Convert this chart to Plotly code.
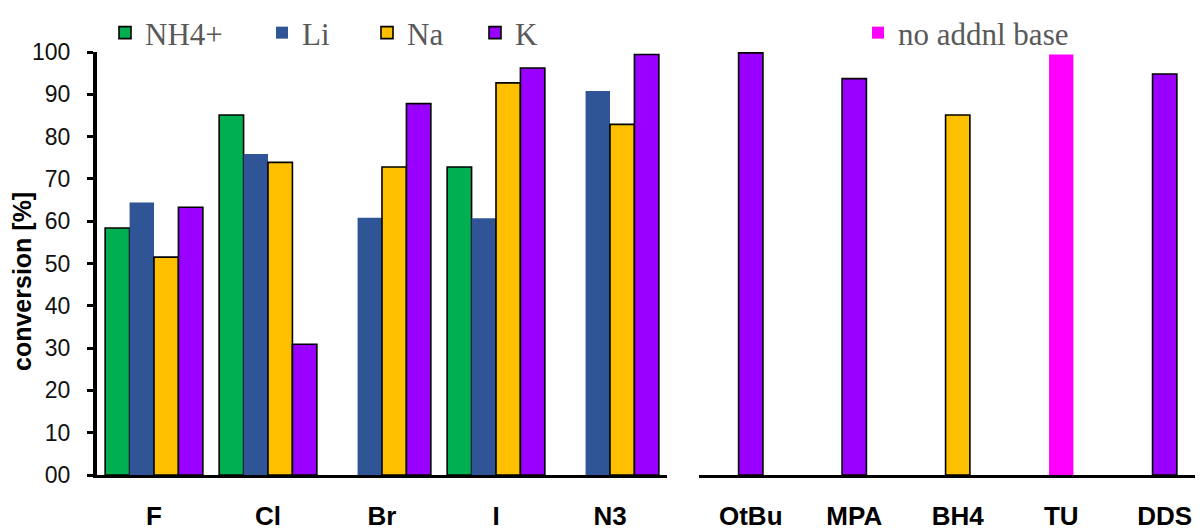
import plotly.graph_objects as go

# ---- data ----
left_categories = ["F", "Cl", "Br", "I", "N3"]
nh4_values = [58.4, 85.1, None, 72.8, None]
li_values = [64.4, 75.9, 60.8, 60.7, 90.8]
na_values = [51.5, 73.9, 72.8, 92.7, 82.9]
k_values = [63.3, 30.9, 87.8, 96.2, 99.4]

right_categories = ["OtBu", "MPA", "BH4", "TU", "DDS"]
right_cation = ["K", "K", "Na", None, "K"]
right_cation_values = [99.8, 93.7, 85.1, None, 94.8]
right_nobase_values = [None, None, None, 99.4, None]

y_tick_values = [0, 10, 20, 30, 40, 50, 60, 70, 80, 90, 100]
y_tick_labels = ["00", "10", "20", "30", "40", "50", "60", "70", "80", "90", "100"]

# ---- styles ----
OFF = 8  # page body margin
W, H = 1203 - OFF, 531 - OFF
colors = {"NH4+": "#00B050", "Li": "#2F5597", "Na": "#FFC000", "K": "#9900FF"}
outlined = {"NH4+": True, "Li": False, "Na": True, "K": True}
nobase_color = "#FF00FF"
legend_x_px = {"NH4+": 105, "Li": 262, "Na": 367, "K": 475, "nobase": 858}
legend_names = {"NH4+": "legend", "Li": "legend2", "Na": "legend3", "K": "legend4", "nobase": "legend5"}


def px_x(x):
    return (x - OFF) / W


fig = go.Figure()

series = [("NH4+", nh4_values), ("Li", li_values), ("Na", na_values), ("K", k_values)]
for name, vals in series:
    fig.add_trace(go.Bar(
        x=left_categories, y=vals, name=name,
        marker=dict(color=colors[name],
                    line=dict(color="#000000", width=1.6 if outlined[name] else 0)),
        xaxis="x", yaxis="y", legend=legend_names[name],
    ))

fig.add_trace(go.Bar(
    x=right_categories, y=right_cation_values, name="cation",
    marker=dict(color=[colors[c] if c else nobase_color for c in right_cation],
                line=dict(color="#000000", width=1.6)),
    width=0.235, offsetgroup="r", showlegend=False,
    xaxis="x2", yaxis="y2",
))
fig.add_trace(go.Bar(
    x=right_categories, y=right_nobase_values, name="no addnl base",
    marker=dict(color=nobase_color, line=dict(width=0)),
    width=0.235, offsetgroup="r",
    xaxis="x2", yaxis="y2", legend="legend5",
))

top, bottom = 52 - OFF, 56
plot_h = H - top - bottom


def px_y(y):
    return (H - bottom - (y - OFF)) / plot_h


legend_font = dict(family="Liberation Serif, Times New Roman, serif", size=31, color="#595959")
legend_layouts = {}
for key, lname in legend_names.items():
    legend_layouts[lname] = dict(
        x=px_x(legend_x_px[key]), y=px_y(33), xanchor="left", yanchor="middle",
        xref="paper", yref="paper", font=legend_font, bgcolor="rgba(0,0,0,0)",
        borderwidth=0, orientation="h",
    )

tick_font = dict(family="Liberation Sans, Arial, sans-serif", size=26, color="#000000", weight="bold")

fig.update_layout(
    width=W, height=H,
    margin=dict(l=0, r=0, t=top, b=bottom, autoexpand=False),
    paper_bgcolor="#FFFFFF", plot_bgcolor="#FFFFFF",
    barmode="group", bargap=0.143, bargroupgap=0,
    showlegend=True,
    xaxis=dict(domain=[px_x(97), px_x(667)], range=[-0.5, 4.5], type="category",
               showline=True, linecolor="#000000", linewidth=3, ticks="",
               showgrid=False, zeroline=False, tickfont=tick_font,
               ticklabelstandoff=16, anchor="y"),
    yaxis=dict(domain=[0, 1], range=[0, 100], showline=True, linecolor="#000000",
               linewidth=4, ticks="outside", ticklen=6, tickwidth=3, tickcolor="#000000",
               tickvals=y_tick_values, ticktext=y_tick_labels, showgrid=False,
               zeroline=False, anchor="x", ticklabelstandoff=12,
               tickfont=dict(family="Liberation Sans, Arial, sans-serif", size=23, color="#111111")),
    xaxis2=dict(domain=[px_x(699), 1.0], range=[-0.5, 4.37], type="category",
                showline=True, linecolor="#000000", linewidth=3, ticks="",
                showgrid=False, zeroline=False, tickfont=tick_font,
                ticklabelstandoff=16, anchor="y2"),
    yaxis2=dict(domain=[0, 1], range=[0, 100], visible=False, anchor="x2"),
    annotations=[dict(
        text="conversion [%]", textangle=-90, xref="paper", yref="paper",
        x=px_x(22), y=px_y(282), xanchor="center", yanchor="middle",
        showarrow=False,
        font=dict(family="Liberation Sans, Arial, sans-serif", size=25, color="#000000", weight="bold"),
    )],
    **legend_layouts,
)

fig.write_html("out.html")
